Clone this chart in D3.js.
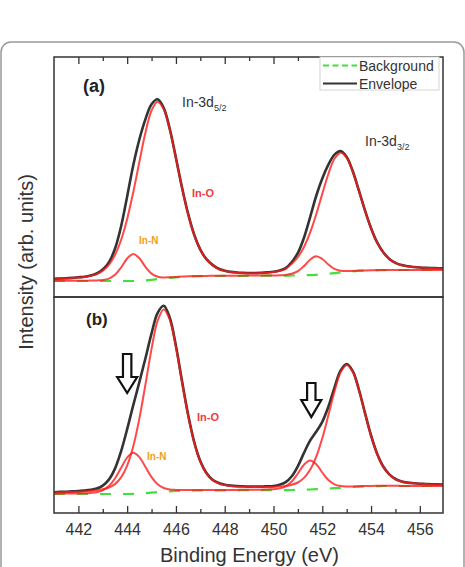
<!DOCTYPE html>
<html>
<head>
<meta charset="utf-8">
<script src="https://cdn.jsdelivr.net/npm/d3@7"></script>
<style>
body{margin:0;background:#fff;}
svg{display:block;font-family:Arial,"Liberation Sans",sans-serif;}
</style>
</head>
<body>
<svg id="chart" width="465" height="567"></svg>
<script>
// binding energy grid (eV), 0.25 eV steps from 441 to 457
var energy = d3.range(441, 457.001, 0.25);

var majorTicks = [442, 444, 446, 448, 450, 452, 454, 456];
var minorTicks = [443, 445, 447, 449, 451, 453, 455];

// panel (a) - intensities (arb. units)
var bgA = [16.0,16.0,16.0,16.0,16.0,16.0,16.0,16.0,16.0,16.0,16.0,16.0,16.0,16.0,
	16.2,16.6,17.2,17.9,18.6,19.2,19.7,20.1,20.4,20.6,20.8,20.9,21.0,21.0,21.1,21.1,
	21.1,21.2,21.2,21.2,21.3,21.3,21.3,21.4,21.4,21.5,21.6,21.7,21.9,22.2,22.6,23.2,
	23.9,24.6,25.2,25.7,26.1,26.4,26.6,26.7,26.8,26.9,26.9,
	27.0,27.0,27.0,27.0,27.0,27.0,27.0,27.0];
var inOA = [2.1,2.3,2.6,2.9,3.4,4.0,5.1,6.9,10.4,16.2,
	26.0,41.0,62.1,88.8,118.8,147.8,169.3,177.4,169.3,147.9,
	119.0,89.0,62.4,41.3,26.4,16.7,10.9,7.0,5.0,3.8,
	3.2,2.8,2.6,2.6,2.7,3.0,3.6,4.7,6.8,11.8,
	18.3,28.3,42.4,60.3,80.5,99.8,114.3,119.6,114.2,99.6,
	80.2,60.0,42.0,27.7,17.7,11.1,7.2,4.8,3.6,2.9,
	2.4,2.1,1.9,1.7,1.5];
var inNA = [0.1,0.2,0.2,0.2,0.3,0.3,0.4,0.6,1.0,2.4,
	6.2,13.5,22.5,27.0,22.5,13.5,6.2,2.4,1.0,0.6,
	0.4,0.3,0.3,0.3,0.2,0.2,0.2,0.2,0.2,0.2,
	0.2,0.2,0.2,0.2,0.2,0.3,0.3,0.4,0.7,1.7,
	4.2,9.3,15.4,18.5,15.4,9.3,4.2,1.7,0.7,0.4,
	0.3,0.2,0.2,0.2,0.2,0.1,0.1,0.1,0.1,0.1,
	0.1,0.1,0.1,0.1,0.1];

// panel (b)
var bgB = [19.0,19.0,19.0,19.0,19.0,19.0,19.0,19.0,19.0,19.0,19.0,19.0,19.0,
	19.2,19.5,19.9,20.3,20.8,21.3,21.7,22.0,22.2,22.4,22.5,22.6,22.6,22.6,22.7,22.7,
	22.7,22.7,22.8,22.8,22.8,22.8,22.9,22.9,22.9,22.9,23.0,23.1,23.3,23.5,23.8,24.1,
	24.4,24.8,25.2,25.6,26.0,26.3,26.6,26.8,26.9,
	27.0,27.0,27.0,27.0,27.0,27.0,27.0,27.0,27.0,27.0,27.0];
var inOB = [1.5,1.7,1.9,2.1,2.3,2.7,3.1,3.7,4.7,6.5,
	9.9,16.6,28.4,47.6,74.9,108.7,143.8,171.5,182.3,171.5,
	143.8,108.8,75.1,47.8,28.7,16.9,10.3,6.9,5.2,4.3,
	3.8,3.5,3.2,3.2,3.1,3.1,3.2,3.6,4.1,5.2,
	7.4,11.8,19.7,32.4,50.7,73.3,96.8,115.4,122.5,115.3,
	96.7,73.1,50.4,32.1,19.3,11.4,6.8,4.5,3.3,2.7,
	2.2,1.9,1.6,1.5,1.3];
var inNB = [0.3,0.4,0.4,0.5,0.6,0.8,1.1,1.8,3.7,7.9,
	15.5,26.1,36.4,41.0,36.4,26.1,15.5,7.9,3.7,1.8,
	1.1,0.8,0.7,0.6,0.5,0.5,0.4,0.4,0.4,0.4,
	0.4,0.4,0.4,0.5,0.5,0.7,0.9,1.7,3.8,8.5,
	16.4,25.0,29.1,25.0,16.4,8.5,3.8,1.7,0.9,0.6,
	0.5,0.4,0.3,0.3,0.2,0.2,0.2,0.1,0.1,0.1,
	0.1,0.1,0.1,0.1,0.1];

// shoulder arrows in panel (b): energy, top and tip intensity
var arrowEnergy = [444.0, 451.55];
var arrowTop = [159, 130];
var arrowHead = [136, 113];
var arrowTip = [120, 96];

var svg = d3.select("#chart");
var LEFT = 54, RIGHT = 443;

// card outline
svg.append("rect")
	.attr("x", 1).attr("y", 42)
	.attr("width", 463).attr("height", 600)
	.attr("rx", 10)
	.attr("fill", "none")
	.attr("stroke", "#9a9a9a")
	.attr("stroke-width", 1.5);

var x = d3.scaleLinear().domain([441, 456.95]).range([LEFT, RIGHT]);

var panels = [
	{id:"a", top:57, bottom:297, ymax:240, bg:bgA, inO:inOA, inN:inNA},
	{id:"b", top:297, bottom:513, ymax:216, bg:bgB, inO:inOB, inN:inNB}
];

panels.forEach(function(p){
	var y = d3.scaleLinear().domain([0, p.ymax]).range([p.bottom, p.top]);
	p.y = y;

	svg.append("clipPath").attr("id", "clip-" + p.id)
		.append("rect")
		.attr("x", LEFT).attr("y", p.top)
		.attr("width", RIGHT - LEFT).attr("height", p.bottom - p.top);

	var line = d3.line()
		.x(function(d, i){ return x(energy[i]); })
		.y(function(d){ return y(d); })
		.curve(d3.curveCatmullRom.alpha(0.5));

	var env = p.bg.map(function(b, i){ return b + p.inO[i] + p.inN[i]; });
	var o = p.bg.map(function(b, i){ return b + p.inO[i]; });
	var n = p.bg.map(function(b, i){ return b + p.inN[i]; });

	var g = svg.append("g").attr("clip-path", "url(#clip-" + p.id + ")");

	g.append("path").attr("d", line(env))
		.attr("fill", "none").attr("stroke", "#333").attr("stroke-width", 2.6);
	g.append("path").attr("d", line(p.bg))
		.attr("fill", "none").attr("stroke", "#3fe03f").attr("stroke-width", 2.2)
		.attr("stroke-dasharray", "11,12");
	g.append("path").attr("d", line(o))
		.attr("fill", "none").attr("stroke", "#ff1a1a").attr("stroke-width", 2)
		.attr("stroke-opacity", 0.8);
	g.append("path").attr("d", line(n))
		.attr("fill", "none").attr("stroke", "#ff1a1a").attr("stroke-width", 2)
		.attr("stroke-opacity", 0.8);

	svg.append("rect")
		.attr("x", LEFT).attr("y", p.top)
		.attr("width", RIGHT - LEFT).attr("height", p.bottom - p.top)
		.attr("fill", "none").attr("stroke", "#333").attr("stroke-width", 1.5);
});

// ticks: top of panel (a), bottom of panel (b), all pointing inward
function tickAxis(axisFn, vals, size, ypos, labels){
	var ax = axisFn(x).tickValues(vals).tickSize(-size).tickPadding(10.5);
	if(!labels) ax.tickFormat("");
	else ax.tickFormat(d3.format("d"));
	var g = svg.append("g").attr("transform", "translate(0," + ypos + ")").call(ax);
	g.select(".domain").remove();
	g.selectAll(".tick line").attr("stroke", "#333").attr("stroke-width", 1.3);
	g.selectAll(".tick text")
		.attr("fill", "#333")
		.style("font-size", "16px")
		.style("font-family", "Arial, 'Liberation Sans', sans-serif");
	return g;
}
tickAxis(d3.axisTop, majorTicks, 7, 57, false);
tickAxis(d3.axisTop, minorTicks, 4, 57, false);
tickAxis(d3.axisBottom, majorTicks, 7, 513, true);
tickAxis(d3.axisBottom, minorTicks, 4, 513, false);

// legend
var leg = svg.append("g");
leg.append("rect")
	.attr("x", 320).attr("y", 57).attr("width", 119).attr("height", 33)
	.attr("fill", "#fff").attr("stroke", "#d4d4d4").attr("stroke-width", 1);
leg.append("line").attr("x1", 323).attr("x2", 357).attr("y1", 65.5).attr("y2", 65.5)
	.attr("stroke", "#3fe03f").attr("stroke-width", 2).attr("stroke-dasharray", "6,3.5");
leg.append("line").attr("x1", 323).attr("x2", 357).attr("y1", 83.5).attr("y2", 83.5)
	.attr("stroke", "#333").attr("stroke-width", 2);
leg.append("text").attr("x", 359).attr("y", 70.5).text("Background")
	.attr("fill", "#333").style("font-size", "14px");
leg.append("text").attr("x", 359).attr("y", 88.5).text("Envelope")
	.attr("fill", "#333").style("font-size", "14px");

// panel labels
svg.append("text").attr("x", 83).attr("y", 92).text("(a)")
	.attr("fill", "#222").style("font-size", "18px").style("font-weight", "bold");
svg.append("text").attr("x", 86).attr("y", 325).text("(b)")
	.attr("fill", "#222").style("font-size", "17px").style("font-weight", "bold");

function orbital(xp, yp, sub){
	var t = svg.append("text").attr("x", xp).attr("y", yp)
		.attr("fill", "#333").style("font-size", "14px");
	t.append("tspan").text("In-3d");
	t.append("tspan").text(sub).attr("dy", 4).style("font-size", "9px");
}
orbital(182, 107, "5/2");
orbital(365, 146, "3/2");

function compLabel(xp, yp, txt, col, size){
	svg.append("text").attr("x", xp).attr("y", yp).text(txt)
		.attr("fill", col).style("font-size", size).style("font-weight", "bold");
}
compLabel(192, 197, "In-O", "#f03a3a", "11px");
compLabel(139, 244, "In-N", "#f0a020", "10px");
compLabel(197, 421, "In-O", "#f03a3a", "11px");
compLabel(147, 460, "In-N", "#f0a020", "10px");

// arrows marking the In-N shoulders
var yb = panels[1].y;
arrowEnergy.forEach(function(e, i){
	var cx = x(e), t = yb(arrowTop[i]), h = yb(arrowHead[i]), tip = yb(arrowTip[i]);
	var sw = 4.2, hw = 10;
	var pts = [[cx - sw, t], [cx + sw, t], [cx + sw, h], [cx + hw, h],
		[cx, tip], [cx - hw, h], [cx - sw, h]];
	svg.append("path")
		.attr("d", "M" + pts.join("L") + "Z")
		.attr("fill", "#fff").attr("stroke", "#111").attr("stroke-width", 2.2)
		.attr("stroke-linejoin", "miter");
});

// axis titles
svg.append("text")
	.attr("transform", "translate(33,262) rotate(-90)")
	.attr("text-anchor", "middle")
	.attr("fill", "#333").style("font-size", "20px")
	.text("Intensity (arb. units)");
svg.append("text")
	.attr("x", 249.5).attr("y", 561.5)
	.attr("text-anchor", "middle")
	.attr("fill", "#333").style("font-size", "20px")
	.text("Binding Energy (eV)");
</script>
</body>
</html>
